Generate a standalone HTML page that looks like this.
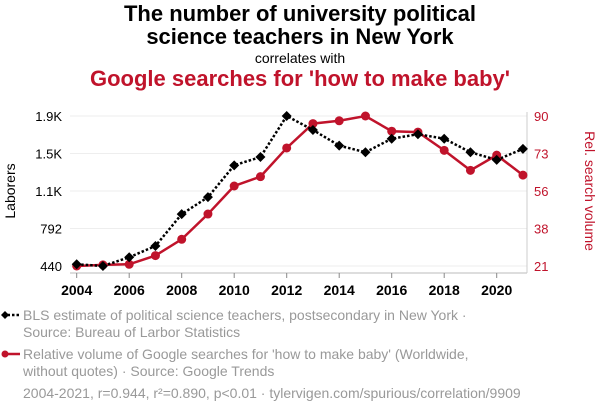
<!DOCTYPE html>
<html><head><meta charset="utf-8">
<style>
body{margin:0;background:#fff;font-family:"Liberation Sans",Arial,sans-serif;}
#wrap{position:relative;width:600px;height:414px;overflow:hidden;}
.t{position:absolute;left:0;width:600px;text-align:center;}
.leg{position:absolute;left:23px;font-size:14px;color:#999;line-height:17px;}
</style></head><body>
<div id="wrap">
<div class="t" style="top:2px;font-size:22px;font-weight:bold;line-height:23px;color:#000">The number of university political<br>science teachers in New York</div>
<div class="t" style="top:50px;font-size:14px;color:#000">correlates with</div>
<div class="t" style="top:66px;font-size:22px;font-weight:bold;color:#c0132b">Google searches for 'how to make baby'</div>
<svg id="chart" width="600" height="414" style="position:absolute;left:0;top:0"></svg>
<div class="leg" style="top:307px">BLS estimate of political science teachers, postsecondary in New York ·<br>Source: Bureau of Larbor Statistics</div>
<div class="leg" style="top:346px">Relative volume of Google searches for 'how to make baby' (Worldwide,<br>without quotes) · Source: Google Trends</div>
<div class="leg" style="top:385px">2004-2021, r=0.944, r²=0.890, p&lt;0.01 · tylervigen.com/spurious/correlation/9909</div>
</div>
<script>
const years=[2004,2005,2006,2007,2008,2009,2010,2011,2012,2013,2014,2015,2016,2017,2018,2019,2020,2021];
const teachers=[456,440,522,628,927,1086,1385,1463,1848,1717,1570,1508,1635,1677,1635,1508,1436,1539];
const searches=[21,21.5,21.8,25.8,33.3,44.9,57.8,62.1,75.3,86.5,87.8,90,83,82.6,74.2,65,72,62.8];
const leftTicks=[440,792,1144,1496,1848];
const leftTickLabels=["440","792","1.1K","1.5K","1.9K"];
const rightTicks=[21,38.25,55.5,72.75,90];
const rightTickLabels=["21","38","56","73","90"];
const xTickYears=[2004,2006,2008,2010,2012,2014,2016,2018,2020];

const svg=document.getElementById('chart');
const NS='http://www.w3.org/2000/svg';
const x=v=>76.7+(v-2004)*26.25;
const yL=v=>266-(v-440)/(1848-440)*150;
const yR=v=>266-(v-21)/(90-21)*150;
function mk(tag,attrs,parent){const e=document.createElementNS(NS,tag);for(const k in attrs)e.setAttribute(k,attrs[k]);(parent||svg).appendChild(e);return e;}

leftTicks.forEach((v,i)=>{
  const g=mk('line',{x1:70,x2:527,y1:yL(v),y2:yL(v),stroke:'#eee','stroke-width':1});
  
  
  const t=mk('text',{x:62,y:yL(v)+5,'text-anchor':'end','font-size':13,fill:'#000'});
  t.textContent=leftTickLabels[i];
  
  
});
rightTicks.forEach((v,i)=>{
  const t=mk('text',{x:534,y:yR(v)+5,'font-size':13,fill:'#c0132b'});
  t.textContent=rightTickLabels[i];
  
  
});
const ax=mk('line',{x1:70,x2:527,y1:273,y2:273,stroke:'#bbb','stroke-width':1});


const rax=mk('line',{x1:527,x2:527,y1:112,y2:273,stroke:'#ccc','stroke-width':1});


xTickYears.forEach(v=>{
  const tk=mk('line',{x1:x(v),x2:x(v),y1:273,y2:278,stroke:'#888'});
  
  
  const t=mk('text',{x:x(v),y:295,'text-anchor':'middle','font-size':14,'font-weight':'bold',fill:'#000'});
  t.textContent=v;
  
  
});
const la=mk('text',{x:0,y:0,transform:'translate(15,191) rotate(-90)','text-anchor':'middle','font-size':14,fill:'#000'});
la.textContent='Laborers';


const ra=mk('text',{x:0,y:0,transform:'translate(585,191) rotate(90)','text-anchor':'middle','font-size':14,fill:'#c0132b'});
ra.textContent='Rel. search volume';



const rl=mk('polyline',{points:years.map((v,i)=>x(v)+','+yR(searches[i])).join(' '),fill:'none',stroke:'#c0132b','stroke-width':2.5});


const bl=mk('polyline',{points:years.map((v,i)=>x(v)+','+yL(teachers[i])).join(' '),fill:'none',stroke:'#000','stroke-width':2.5,'stroke-dasharray':'2.5,2'});


years.forEach((v,i)=>{
  const c=mk('circle',{cx:x(v),cy:yR(searches[i]),r:4.5,fill:'#c0132b'});
  
  
});
years.forEach((v,i)=>{
  const cx=x(v),cy=yL(teachers[i]);
  const d=mk('polygon',{points:`${cx},${cy-5} ${cx+5},${cy} ${cx},${cy+5} ${cx-5},${cy}`,fill:'#000'});
  
  
});
const lm1=mk('line',{x1:3,x2:20,y1:315,y2:315,stroke:'#000','stroke-width':2.5,'stroke-dasharray':'2.5,2'});


const lm1d=mk('polygon',{points:'5,311 9,315 5,319 1,315',fill:'#000'});


const lm2=mk('line',{x1:3,x2:20,y1:354,y2:354,stroke:'#c0132b','stroke-width':2.5});


const lm2c=mk('circle',{cx:5,cy:354,r:3.5,fill:'#c0132b'});


</script>
</body></html>
